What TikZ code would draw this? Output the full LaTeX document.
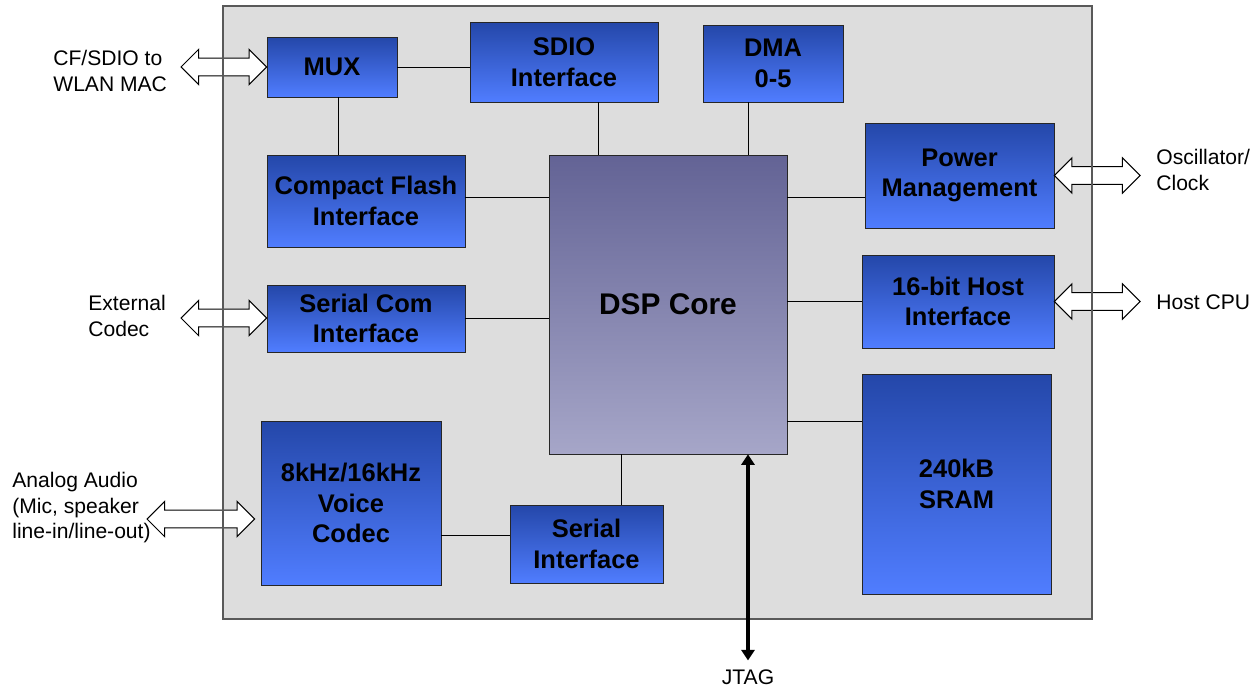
\documentclass[tikz,border=0pt]{standalone}
\usepackage{fontspec}
\setmainfont{Liberation Sans}
\usetikzlibrary{calc, arrows.meta}

\definecolor{chipgray}{HTML}{DDDDDD}
\definecolor{blocktop}{HTML}{2447A9}
\definecolor{blockbot}{HTML}{507DFF}
\definecolor{coretop}{HTML}{636395}
\definecolor{corebot}{HTML}{A6A6C8}

\tikzset{
  block/.style={draw=black!85, top color=blocktop, bottom color=blockbot, align=center,
    inner sep=0pt, font=\fontsize{14.5}{17.5}\selectfont\bfseries},
  core/.style={block, top color=coretop, bottom color=corebot,
    font=\fontsize{17}{20}\selectfont\bfseries},
  extlabel/.style={anchor=west, align=left, inner sep=0pt, font=\fontsize{12}{14.5}\selectfont},
}

% hollow double arrow from #1 (left tip) to #2 (right tip), at the height of #1
\newcommand{\busarrow}[2]{%
  \draw[fill=white, line width=0.6pt] let \p1=(#1), \p2=(#2) in
    (\x1,\y1) -- (\x1+10pt,\y1+10pt) -- (\x1+10pt,\y1+5pt) -- (\x2-10pt,\y1+5pt)
    -- (\x2-10pt,\y1+10pt) -- (\x2,\y1) -- (\x2-10pt,\y1-10pt) -- (\x2-10pt,\y1-5pt)
    -- (\x1+10pt,\y1-5pt) -- (\x1+10pt,\y1-10pt) -- cycle;
}

\begin{document}
\begin{tikzpicture}[x=0.02cm, y=-0.02cm]
    \useasboundingbox (0,0) rectangle (1260,689);

    % chip
    \fill[chipgray] (223,6) rectangle (1092,619);

    % blocks
    \node[block, minimum width=2.6cm, minimum height=1.2cm] (mux) at (332,67) {MUX};
    \node[block, minimum width=3.76cm, minimum height=1.6cm] (sdio) at (564,62) {SDIO\\Interface};
    \node[block, minimum width=2.8cm, minimum height=1.54cm] (dma) at (773,63.5) {DMA\\0-5};
    \node[block, minimum width=3.96cm, minimum height=1.84cm] (cf) at (366,201) {Compact Flash\\Interface};
    \node[block, minimum width=3.96cm, minimum height=1.34cm] (com) at (366,318.5) {Serial Com\\Interface};
    \node[block, minimum width=3.6cm, minimum height=3.28cm] (voice) at (351,503) {8kHz/16kHz\\Voice\\Codec};
    \node[block, minimum width=3.06cm, minimum height=1.56cm] (serial) at (586.5,544) {Serial\\Interface};
    \node[core, minimum width=4.76cm, minimum height=5.98cm] (dsp) at (668,304.5) {DSP Core};
    \node[block, minimum width=3.78cm, minimum height=2.1cm] (power) at (959.5,175.5) {Power\\Management};
    \node[block, minimum width=3.84cm, minimum height=1.86cm] (host) at (958,301.5) {16-bit Host\\Interface};
    \node[block, minimum width=3.78cm, minimum height=4.4cm] (sram) at (956.5,484) {240kB\\SRAM};

    % outside labels
    \node[extlabel] (wlan) at (53,71) {CF/SDIO to\\WLAN MAC};
    \node[extlabel] (extcodec) at (88,316) {External\\Codec};
    \node[extlabel] (audio) at (12,508) {Analog Audio\\(Mic, speaker\\line-in/line-out)};
    \node[extlabel] (osc) at (1156,170) {Oscillator/\\Clock};
    \node[extlabel] (cpu) at (1156,302) {Host CPU};
    \node[font=\fontsize{12}{14.5}\selectfont, inner sep=5pt] (jtag) at (748,677) {JTAG};

    % internal buses
    \draw (mux.east) -- (mux.east -| sdio.west);
    \coordinate (muxDown) at ([xshift=0.12cm]mux.south);
    \draw (muxDown) -- (muxDown |- cf.north);
    \coordinate (sdioDown) at ([xshift=0.68cm]sdio.south);
    \draw (sdioDown) -- (sdioDown |- dsp.north);
    \coordinate (dmaDown) at ([xshift=-0.5cm]dma.south);
    \draw (dmaDown) -- (dmaDown |- dsp.north);
    \coordinate (cfOut) at ([yshift=0.08cm]cf.east);
    \draw (cfOut) -- (cfOut -| dsp.west);
    \draw (com.east) -- (com.east -| dsp.west);
    \coordinate (codecOut) at ([yshift=-0.64cm]voice.east);
    \draw (codecOut) -- (codecOut -| serial.west);
    \coordinate (serialUp) at ([xshift=0.69cm]serial.north);
    \draw (serialUp) -- (serialUp |- dsp.south);
    \coordinate (powerIn) at ([yshift=-0.43cm]power.west);
    \draw (powerIn) -- (powerIn -| dsp.east);
    \draw (host.west) -- (host.west -| dsp.east);
    \coordinate (sramIn) at ([yshift=1.26cm]sram.west);
    \draw (sramIn) -- (sramIn -| dsp.east);

    % external ports
    \coordinate (wlanTip) at (181,67);
    \coordinate (extTip) at (181,318);
    \coordinate (audioTip) at (147,519);
    \coordinate (codecTip) at ([xshift=-0.12cm,yshift=-0.32cm]voice.west);
    \coordinate (oscTip) at (1140,176);
    \coordinate (cpuTip) at (1140,302);
    \busarrow{wlanTip}{mux.west}
    \busarrow{extTip}{com.west}
    \busarrow{audioTip}{codecTip}
    \busarrow{power.east}{oscTip}
    \busarrow{host.east}{cpuTip}

    % chip outline over the ports
    \draw[draw=black!65, line width=0.8pt] (223,6) rectangle (1092,619);

    \coordinate (jtagUp) at ([xshift=1.6cm]dsp.south);
    \draw[<->, >={Triangle[length=6pt,width=7.5pt]}, line width=2.2pt] (jtagUp |- jtag.north) -- (jtagUp);
\end{tikzpicture}
\end{document}
